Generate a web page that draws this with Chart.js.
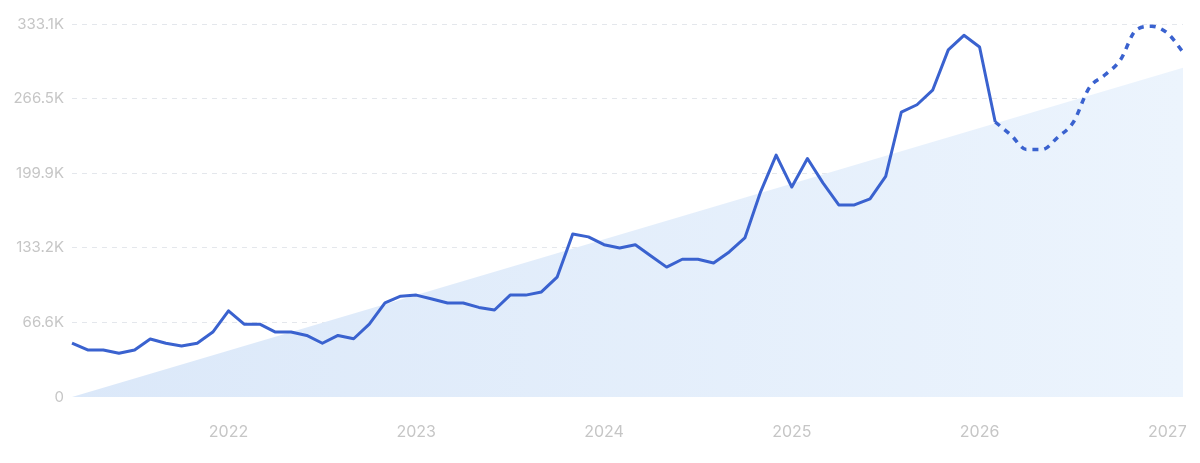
<!DOCTYPE html>
<html>
<head>
<meta charset="utf-8">
<script src="https://cdn.jsdelivr.net/npm/chart.js@4/dist/chart.umd.min.js"></script>
<style>
  html, body { margin: 0; padding: 0; background: #fff; }
  #wrap { width: 1200px; height: 463px; }
</style>
</head>
<body>
<div id="wrap"><canvas id="trend"></canvas></div>
<script>
// monthly points, Mar 2021 .. Feb 2027
const months = [
  '2021-03','2021-04','2021-05','2021-06','2021-07','2021-08','2021-09','2021-10','2021-11','2021-12',
  '2022-01','2022-02','2022-03','2022-04','2022-05','2022-06','2022-07','2022-08','2022-09','2022-10','2022-11','2022-12',
  '2023-01','2023-02','2023-03','2023-04','2023-05','2023-06','2023-07','2023-08','2023-09','2023-10','2023-11','2023-12',
  '2024-01','2024-02','2024-03','2024-04','2024-05','2024-06','2024-07','2024-08','2024-09','2024-10','2024-11','2024-12',
  '2025-01','2025-02','2025-03','2025-04','2025-05','2025-06','2025-07','2025-08','2025-09','2025-10','2025-11','2025-12',
  '2026-01','2026-02','2026-03','2026-04','2026-05','2026-06','2026-07','2026-08','2026-09','2026-10','2026-11','2026-12',
  '2027-01','2027-02'
];

// observed volume (ends Feb 2026)
const actual = [
  48200, 42000, 42000, 39000, 42000, 51800, 48000, 45500, 48000, 58000,
  77000, 65000, 65000, 58000, 58000, 55000, 48000, 55000, 52000, 65000, 84000, 90000,
  91000, 87500, 84000, 84000, 80000, 77700, 91000, 91000, 93800, 107000, 145500, 143000,
  136000, 133000, 136000, 126000, 116000, 123000, 123000, 119600, 129500, 142000, 183000, 216000,
  187500, 213000, 191000, 171500, 171500, 177000, 197000, 254500, 261000, 274000, 310000, 323000,
  312600, 245600
];

// forecast, starts at the last observed month
const forecast = [
  245600, 234000, 221000, 221000, 232000, 245600, 276000, 287500, 301000, 327700, 331000,
  325000, 308000
];

// trend wedge: from zero at the start to the end value
const trendStart = 0;
const trendEnd = 294000;

const yMax = 333100;
const yStep = 66620;

const solidData = months.map((_, i) => i < actual.length ? actual[i] : null);
const forecastStart = actual.length - 1;
const dashedData = months.map((_, i) => i >= forecastStart ? forecast[i - forecastStart] : null);
const trendData = months.map((_, i) => i === 0 ? trendStart : (i === months.length - 1 ? trendEnd : null));

function formatK(v) {
  if (v === 0) return '0';
  return (v / 1000).toFixed(1) + 'K';
}

const ctx = document.getElementById('trend').getContext('2d');

new Chart(ctx, {
  type: 'line',
  data: {
    labels: months,
    datasets: [
      {
        label: 'trend',
        data: trendData,
        spanGaps: true,
        borderWidth: 0,
        pointRadius: 0,
        fill: 'origin',
        backgroundColor: (c) => {
          const area = c.chart.chartArea;
          if (!area) return 'rgba(220,233,249,1)';
          const g = c.chart.ctx.createLinearGradient(area.left, 0, area.right, 0);
          g.addColorStop(0, 'rgba(219,232,249,1)');
          g.addColorStop(1, 'rgba(236,244,253,1)');
          return g;
        },
        order: 3
      },
      {
        label: 'volume',
        data: solidData,
        borderColor: '#3a62cf',
        borderWidth: 3,
        tension: 0,
        pointRadius: 0,
        fill: false,
        borderJoinStyle: 'round',
        order: 1
      },
      {
        label: 'forecast',
        data: dashedData,
        borderColor: '#3a62cf',
        borderWidth: 3.5,
        borderDash: [6, 6],
        tension: 0.4,
        cubicInterpolationMode: 'monotone',
        pointRadius: 0,
        fill: false,
        order: 2
      }
    ]
  },
  options: {
    responsive: true,
    maintainAspectRatio: false,
    animation: false,
    layout: { padding: { top: 24, right: 17, left: 0, bottom: 0 } },
    plugins: {
      legend: { display: false },
      tooltip: { enabled: false }
    },
    scales: {
      x: {
        grid: { display: false, drawTicks: false },
        border: { display: false },
        afterFit: (scale) => {
          scale.height = 66;
          scale.paddingLeft = 0;
          scale.paddingRight = 0;
        },
        ticks: {
          autoSkip: false,
          maxRotation: 0,
          padding: 26,
          color: '#c6c6c6',
          font: { family: 'Inter, Roboto, sans-serif', size: 16 },
          callback: function (value) {
            const m = months[value];
            return m.endsWith('-01') ? m.slice(0, 4) : '';
          }
        }
      },
      y: {
        min: 0,
        max: yMax,
        afterFit: (scale) => { scale.width = 72; },
        afterBuildTicks: (scale) => {
          const t = [];
          for (let i = 0; i <= 5; i++) t.push({ value: i * yStep });
          scale.ticks = t;
        },
        grid: {
          color: (c) => c.tick && c.tick.value === 0 ? 'rgba(0,0,0,0)' : '#e4e7ec',
          drawTicks: false,
          lineWidth: 1
        },
        border: { display: false, dash: [5, 5] },
        ticks: {
          padding: 8,
          color: '#c6c6c6',
          font: { family: 'Inter, Roboto, sans-serif', size: 15 },
          callback: (v) => formatK(v)
        }
      }
    }
  }
});
</script>
</body>
</html>
